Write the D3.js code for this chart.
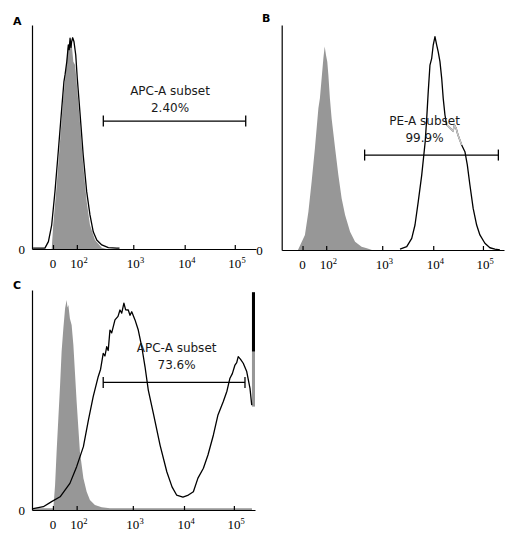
<!DOCTYPE html>
<html><head><meta charset="utf-8">
<script src="https://cdn.jsdelivr.net/npm/d3@7"></script>
<style>body{margin:0;background:#fff}svg{display:block}</style>
</head><body><svg id="chart" width="519" height="543"></svg>
<script>
// ---- data (x in instrument channels 0..1024, y as % of panel height) ----
const channelTicks = [96, 205, 463, 698, 927];
const tickBase = ["0", "10", "10", "10", "10"];
const tickExp = ["", "2", "3", "4", "5"];
const panelLetters = ["A", "B", "C"];

const aControl = [[90,0],[97,10.7],[113,28.6],[128,47.9],[143,67.4],[155,79.2],[163,89.6],[171,92.5],[176,94],[181,91.8],[189,83.6],[197,82.1],[204,74.7],[219,56.8],[234,37.5],[250,21.1],[265,10.7],[288,4],[319,0.6],[341,0]];
const aStained = [[5,0.4],[59,0.4],[75,3.3],[90,10.7],[105,25.6],[120,43.4],[136,62.9],[146,74.7],[151,77.7],[159,83.6],[166,91.1],[170,89],[174,94.1],[178,90],[181,92.5],[186,94.3],[192,92.5],[200,86.6],[207,76.2],[219,61.3],[234,42],[250,25.6],[265,15.2],[280,7.7],[296,4],[319,1.8],[349,0.6],[387,0.4],[400,0.4]];

const bControl = [[75,0],[107,6.7],[123,17],[138,30.4],[153,45.2],[169,63],[176,67.4],[184,76.3],[192,85.2],[198,90.4],[204,86.7],[210,83.7],[215,77.8],[222,67.4],[230,58.5],[246,45.2],[261,33.3],[276,23],[292,15.6],[315,8.1],[338,3.7],[368,1.5],[392,0.8],[416,0]];
const bStained = [[545,0.4],[576,1.5],[599,5.2],[614,11.1],[629,21.5],[645,33.3],[661,48.1],[668,58.5],[675,70.4],[683,82.2],[691,85.2],[698,91.1],[706,94.8],[714,91.1],[721,88.1],[729,83.7],[737,76.3],[744,67.4],[752,60],[760,55.6],[775,54.2],[789,52.9],[796,55.5],[803,54.2],[812,51.1],[829,46.7],[844,43.7],[855,37.8],[867,28.9],[882,18.5],[898,11.1],[913,6.7],[936,3],[959,1],[982,0.4],[1005,0]];
const bFaintRange = [760, 829];

const cControl = [[0,0.8],[98,0.8],[106,11.4],[113,26.5],[121,41.7],[129,56.8],[136,72],[144,82.6],[152,91.7],[159,95.5],[163,92],[167,93.2],[174,87.1],[182,84.1],[190,75],[197,62.9],[205,49.2],[213,37.1],[220,26.5],[236,14.4],[251,8.3],[266,4.5],[289,2.3],[320,1.2],[358,0.8],[1010,0.8]];
const cStained = [[0,0.5],[52,1.5],[90,3.8],[129,6],[174,12.1],[205,19.7],[236,28.8],[259,40.9],[281,51.5],[304,60.6],[315,64],[327,71.2],[335,70],[343,74.2],[350,72.5],[358,81.8],[366,80.5],[381,86.4],[395,88],[404,90.9],[412,89.5],[422,94],[430,91],[442,90.9],[450,88.5],[458,90.1],[473,86.4],[488,81.8],[504,74.2],[519,65.1],[534,54.5],[557,44],[588,29.5],[619,17.4],[643,10.5],[664,6.8],[693,5.9],[718,6.8],[741,8.3],[762,14.5],[787,19],[808,25],[833,34.1],[854,43.2],[878,49.2],[895,54],[909,59.9],[920,62],[932,65.9],[940,67],[947,69.7],[957,68.6],[970,66.7],[986,62.9],[1001,55.3],[1009,47.7]];
const cOffscaleChannels = [1010, 1024];
const cOffscaleControl = [47, 72];
const cOffscaleStained = [72, 99];

const gateNames = ["APC-A subset", "PE-A subset", "APC-A subset"];
const gatePercents = ["2.40%", "99.9%", "73.6%"];
const gateRanges = [[326, 977], [382, 998], [327, 978]];
const gateLevels = [57.1, 42.2, 58];
const gateLabelChannels = [631, 658, 664];

// ---- layout ----
const panels = [
  {left:32, right:256, top:25, bottom:249, letterX:13, letterY:25, zeroPad:7, control:aControl, stained:aStained, labelDy:[-26,-9]},
  {left:281.7, right:504, top:25, bottom:250, letterX:262, letterY:21.5, zeroPad:19, control:bControl, stained:bStained, labelDy:[-30,-13], faint:bFaintRange},
  {left:32, right:255, top:290, bottom:510, letterX:13, letterY:289, zeroPad:7, control:cControl, stained:cStained, labelDy:[-30.5,-13.3], offscale:true}
];

const svg = d3.select("#chart");
const serif = "'Liberation Serif','DejaVu Serif',serif";
const sans = "'DejaVu Sans',Verdana,sans-serif";

panels.forEach((p, i) => {
  const x = d3.scaleLinear().domain([0, 1024]).range([p.left, p.right]);
  const y = d3.scaleLinear().domain([0, 100]).range([p.bottom, p.top]);
  const g = svg.append("g");

  const area = d3.area().x(d => x(d[0])).y0(y(0)).y1(d => y(d[1]));
  const line = d3.line().x(d => x(d[0])).y(d => y(d[1]));

  g.append("path").datum(p.control).attr("d", area).attr("fill", "#979797");

  if (p.offscale) {
    g.append("rect").attr("x", x(cOffscaleChannels[0])).attr("width", x(cOffscaleChannels[1]) - x(cOffscaleChannels[0]))
      .attr("y", y(cOffscaleControl[1])).attr("height", y(cOffscaleControl[0]) - y(cOffscaleControl[1])).attr("fill", "#979797");
    g.append("rect").attr("x", x(cOffscaleChannels[0])).attr("width", x(cOffscaleChannels[1]) - x(cOffscaleChannels[0]))
      .attr("y", y(cOffscaleStained[1])).attr("height", y(cOffscaleStained[0]) - y(cOffscaleStained[1])).attr("fill", "#000");
  }

  g.append("path").datum(p.stained).attr("d", line).attr("fill", "none")
    .attr("stroke", "#000").attr("stroke-width", 1.3).attr("stroke-linejoin", "round");
  if (p.faint) {
    const seg = p.stained.filter(d => d[0] >= p.faint[0] && d[0] <= p.faint[1]);
    g.append("path").datum(seg).attr("d", line).attr("fill", "none")
      .attr("stroke", "#c4c4c4").attr("stroke-width", 1.6);
  }

  // axes
  const xAxis = g.append("g").attr("transform", `translate(0,${p.bottom})`)
    .call(d3.axisBottom(x).tickValues(channelTicks).tickSizeInner(-4).tickSizeOuter(0).tickFormat(""));
  const yAxis = g.append("g").attr("transform", `translate(${p.left},0)`)
    .call(d3.axisLeft(y).tickValues([0]).tickSize(0).tickSizeOuter(0).tickPadding(p.zeroPad).tickFormat(() => "0"));
  [xAxis, yAxis].forEach(a => {
    a.selectAll("path,line").attr("stroke", "#000").attr("stroke-width", 1.2);
  });
  yAxis.selectAll("text").attr("font-family", serif).attr("font-size", 13).attr("fill", "#000");

  channelTicks.forEach((t, k) => {
    g.append("text").attr("x", x(t)).attr("y", p.bottom + 19).attr("text-anchor", "middle")
      .attr("font-family", serif).attr("font-size", 13).attr("fill", "#000").text(tickBase[k]);
    if (tickExp[k]) {
      g.append("text").attr("x", x(t) + 6.6).attr("y", p.bottom + 13.5)
        .attr("font-family", serif).attr("font-size", 8.5).attr("fill", "#000").text(tickExp[k]);
    }
  });

  // gate
  const gy = y(gateLevels[i]);
  const gx0 = x(gateRanges[i][0]), gx1 = x(gateRanges[i][1]);
  g.append("line").attr("x1", gx0).attr("x2", gx1).attr("y1", gy).attr("y2", gy).attr("stroke", "#000").attr("stroke-width", 1.3);
  [gx0, gx1].forEach(gx => g.append("line").attr("x1", gx).attr("x2", gx).attr("y1", gy - 5.5).attr("y2", gy + 5.5)
    .attr("stroke", "#000").attr("stroke-width", 1.3));
  const lx = x(gateLabelChannels[i]);
  g.append("text").attr("x", lx).attr("y", gy + p.labelDy[0]).attr("text-anchor", "middle")
    .attr("font-family", sans).attr("font-size", 12).attr("fill", "#1a1a1a").text(gateNames[i]);
  g.append("text").attr("x", lx).attr("y", gy + p.labelDy[1]).attr("text-anchor", "middle")
    .attr("font-family", sans).attr("font-size", 12).attr("fill", "#1a1a1a").text(gatePercents[i]);

  // panel letter
  svg.append("text").attr("x", p.letterX).attr("y", p.letterY).attr("font-family", sans)
    .attr("font-weight", "bold").attr("font-size", 11).attr("fill", "#000").text(panelLetters[i]);
});
</script></body></html>
